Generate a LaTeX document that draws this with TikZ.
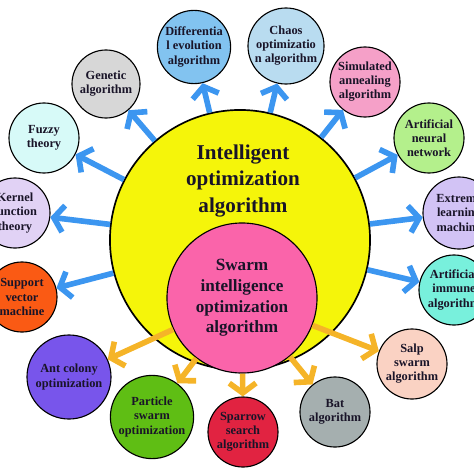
\documentclass[tikz,border=0pt]{standalone}
\usepackage{fontspec}
\setmainfont{Liberation Serif}
\usetikzlibrary{arrows.meta}

\definecolor{yelfill}{RGB}{245,245,10}
\definecolor{pinkfill}{RGB}{250,100,170}
\definecolor{arrblue}{RGB}{60,150,240}
\definecolor{arrorange}{RGB}{245,180,40}
\definecolor{difffill}{RGB}{130,195,240}
\definecolor{chaosfill}{RGB}{185,220,240}
\definecolor{simfill}{RGB}{245,160,200}
\definecolor{annfill}{RGB}{180,240,140}
\definecolor{extfill}{RGB}{210,195,245}
\definecolor{immfill}{RGB}{120,240,220}
\definecolor{salpfill}{RGB}{250,210,195}
\definecolor{batfill}{RGB}{165,175,175}
\definecolor{sparfill}{RGB}{225,35,65}
\definecolor{partfill}{RGB}{95,190,20}
\definecolor{antfill}{RGB}{120,85,235}
\definecolor{svmfill}{RGB}{250,90,20}
\definecolor{kerfill}{RGB}{225,210,245}
\definecolor{fuzfill}{RGB}{215,250,248}
\definecolor{genfill}{RGB}{215,215,215}
\definecolor{inkdark}{RGB}{25,20,40}

\begin{document}
\begin{tikzpicture}[x=0.025cm,y=-0.025cm,
    algo/.style={circle, draw=black, thick, inner sep=0pt, minimum size=1.75cm,
      align=center, text=inkdark, font=\bfseries\fontsize{8.8}{10}\selectfont},
    blarrow/.style={draw=arrblue, line width=4pt,
      -{Straight Barb[length=7pt,width=19pt]}},
    orarrow/.style={draw=arrorange, line width=4pt,
      -{Straight Barb[length=7pt,width=19pt]}}]
    \useasboundingbox (0,0) rectangle (474,474);
    % the two nested classes
    \node[circle, draw=black, line width=1.2pt, fill=yelfill, minimum size=6.5cm] (yel) at (240,240) {};
    \node[circle, draw=black, thick, fill=pinkfill, minimum size=3.75cm] (pink) at (242,298) {};
    \node[align=center, text=inkdark, font=\bfseries\fontsize{15}{19}\selectfont] (yeltxt) at (243,181)
      {Intelligent\\optimization\\algorithm};
    \node[align=center, text=inkdark, font=\bfseries\fontsize{12.2}{14.6}\selectfont] (pinktxt) at (242,298)
      {Swarm\\intelligence\\optimization\\algorithm};
    % intelligent optimization methods
    \node[algo, fill=difffill, minimum size=1.83cm] (diff) at (194,47) {Differentia\\l evolution\\algorithm};
    \node[algo, fill=chaosfill, minimum size=1.9cm] (chaos) at (286,46) {Chaos\\optimizatio\\n algorithm};
    \node[algo, fill=simfill] (sim) at (365,82) {Simulated\\annealing\\algorithm};
    \node[algo, fill=annfill] (ann) at (429,138) {Artificial\\neural\\network};
    \node[algo, fill=extfill, minimum size=1.8cm] (ext) at (459,213) {Extreme\\learning\\machine};
    \node[algo, fill=immfill] (imm) at (454,290) {Artificial\\immune\\algorithm};
    \node[algo, fill=svmfill] (svm) at (22,297) {Support\\vector\\machine};
    \node[algo, fill=kerfill] (ker) at (15,213) {Kernel\\function\\theory};
    \node[algo, fill=fuzfill] (fuz) at (44,138) {Fuzzy\\theory};
    \node[algo, fill=genfill, minimum size=1.7cm] (gen) at (106,84) {Genetic\\algorithm};
    % swarm intelligence methods
    \node[algo, fill=salpfill] (salp) at (412,364) {Salp\\swarm\\algorithm};
    \node[algo, fill=batfill] (bat) at (335,412) {Bat\\algorithm};
    \node[algo, fill=sparfill] (spar) at (243,432) {Sparrow\\search\\algorithm};
    \node[algo, fill=partfill, minimum size=2.08cm] (part) at (152,417) {Particle\\swarm\\optimization};
    \node[algo, fill=antfill, minimum size=2.1cm] (ant) at (69,377) {Ant colony\\optimization};
    % arrows
    \foreach \t in {diff,chaos,sim,ann,ext,imm,svm,ker,fuz,gen}
      \draw[blarrow] (yel) -- (\t);
    \foreach \t in {salp,bat,spar,part,ant}
      \draw[orarrow] (pink) -- (\t);
\end{tikzpicture}
\end{document}
